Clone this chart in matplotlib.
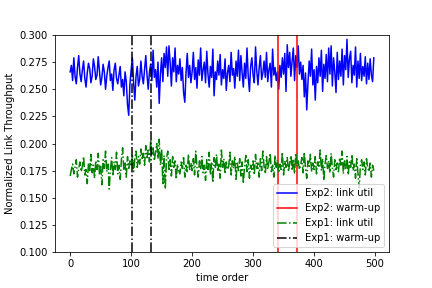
import matplotlib
matplotlib.use("Agg")
import matplotlib.pyplot as plt
import numpy as np

# time order (sampled every 2 steps)
time_order = list(range(0, 500, 2))

exp2_util = [
0.266,0.272,0.258,0.279,0.262,0.255,0.270,0.281,0.264,0.257,
0.268,0.276,0.260,0.252,0.265,0.274,0.269,0.256,0.262,0.278,
0.271,0.259,0.263,0.280,0.267,0.254,0.261,0.273,0.266,0.250,
0.262,0.270,0.276,0.258,0.264,0.249,0.268,0.274,0.260,0.255,
0.263,0.271,0.252,0.259,0.244,0.266,0.257,0.236,0.226,0.255,
0.268,0.279,0.256,0.240,0.262,0.271,0.253,0.259,0.276,0.262,
0.255,0.268,0.281,0.263,0.250,0.266,0.273,0.258,0.286,0.261,
0.268,0.252,0.275,0.237,0.264,0.279,0.257,0.283,0.270,0.289,
0.262,0.290,0.274,0.253,0.279,0.266,0.288,0.257,0.272,0.264,
0.278,0.258,0.270,0.247,0.238,0.265,0.283,0.261,0.272,0.256,
0.266,0.284,0.259,0.270,0.251,0.277,0.263,0.288,0.258,0.268,
0.275,0.256,0.285,0.264,0.252,0.271,0.261,0.287,0.244,0.266,
0.259,0.276,0.263,0.282,0.254,0.268,0.260,0.278,0.249,0.265,
0.272,0.257,0.284,0.263,0.269,0.251,0.276,0.262,0.286,0.258,
0.281,0.265,0.252,0.274,0.260,0.288,0.262,0.248,0.271,0.279,
0.263,0.256,0.289,0.267,0.254,0.270,0.281,0.259,0.265,0.276,
0.261,0.284,0.257,0.268,0.274,0.252,0.287,0.263,0.270,0.258,
0.266,0.250,0.272,0.261,0.279,0.264,0.283,0.248,0.291,0.270,
0.284,0.262,0.276,0.288,0.258,0.281,0.270,0.290,0.264,0.275,
0.259,0.272,0.243,0.265,0.231,0.256,0.276,0.262,0.287,0.254,
0.268,0.240,0.271,0.256,0.279,0.262,0.286,0.248,0.273,0.260,
0.282,0.257,0.288,0.264,0.290,0.253,0.279,0.266,0.247,0.284,
0.259,0.276,0.262,0.287,0.254,0.281,0.268,0.296,0.261,0.278,
0.285,0.256,0.272,0.263,0.289,0.252,0.276,0.260,0.283,0.258,
0.271,0.262,0.280,0.255,0.274,0.259,0.278,0.263,0.257,0.279,
]

exp1_util = [
0.170,0.176,0.181,0.172,0.178,0.185,0.169,0.177,0.183,0.174,
0.179,0.188,0.171,0.176,0.163,0.182,0.175,0.190,0.173,0.180,
0.168,0.184,0.176,0.191,0.172,0.179,0.162,0.185,0.177,0.193,
0.174,0.181,0.158,0.176,0.187,0.170,0.183,0.176,0.192,0.172,
0.180,0.167,0.185,0.196,0.175,0.182,0.169,0.188,0.177,0.184,
0.179,0.190,0.174,0.186,0.193,0.178,0.188,0.181,0.195,0.185,
0.191,0.180,0.198,0.187,0.194,0.183,0.203,0.189,0.196,0.184,
0.192,0.200,0.186,0.204,0.180,0.195,0.163,0.189,0.158,0.186,
0.193,0.176,0.185,0.170,0.188,0.178,0.184,0.167,0.181,0.175,
0.172,0.183,0.177,0.187,0.169,0.180,0.174,0.190,0.176,0.182,
0.175,0.186,0.171,0.193,0.178,0.169,0.184,0.176,0.188,0.173,
0.180,0.166,0.185,0.176,0.192,0.171,0.182,0.164,0.187,0.177,
0.190,0.174,0.181,0.168,0.194,0.178,0.186,0.172,0.183,0.176,
0.179,0.192,0.171,0.184,0.177,0.188,0.167,0.182,0.175,0.186,
0.170,0.183,0.163,0.178,0.189,0.174,0.185,0.168,0.180,0.176,
0.184,0.171,0.190,0.177,0.182,0.169,0.186,0.175,0.193,0.179,
0.172,0.188,0.176,0.183,0.191,0.174,0.180,0.169,0.189,0.178,
0.185,0.173,0.181,0.176,0.192,0.171,0.184,0.178,0.187,0.174,
0.182,0.189,0.175,0.186,0.172,0.191,0.179,0.184,0.176,0.180,
0.187,0.173,0.192,0.177,0.168,0.184,0.179,0.190,0.174,0.182,
0.176,0.188,0.172,0.183,0.179,0.194,0.175,0.186,0.166,0.181,
0.189,0.177,0.184,0.173,0.191,0.178,0.169,0.185,0.176,0.182,
0.174,0.187,0.180,0.193,0.172,0.184,0.177,0.188,0.171,0.183,
0.178,0.190,0.175,0.181,0.168,0.186,0.172,0.159,0.180,0.185,
0.176,0.183,0.171,0.186,0.178,0.174,0.182,0.169,0.180,0.175,
]

exp2_warmup = [341, 372]
exp1_warmup = [102, 133]

fig = plt.figure(figsize=(6, 4), dpi=72)
ax = fig.add_axes([55/432, 36/288, 334/432, 217/288])

ax.plot(time_order, exp2_util, color="blue", linestyle="-", label="Exp2: link util")
for i, xv in enumerate(exp2_warmup):
    ax.axvline(xv, color="red", linestyle="-", label="Exp2: warm-up" if i == 0 else None)
ax.plot(time_order, exp1_util, color="green", linestyle="-.", label="Exp1: link util")
for i, xv in enumerate(exp1_warmup):
    ax.axvline(xv, color="black", linestyle="-.", label="Exp1: warm-up" if i == 0 else None)

ax.set_ylim(0.1, 0.3)
ax.set_xlabel("time order")
ax.set_ylabel("Normalized Link Throughput")
ax.legend(loc="lower right")

fig.savefig("out.png", dpi=72)
